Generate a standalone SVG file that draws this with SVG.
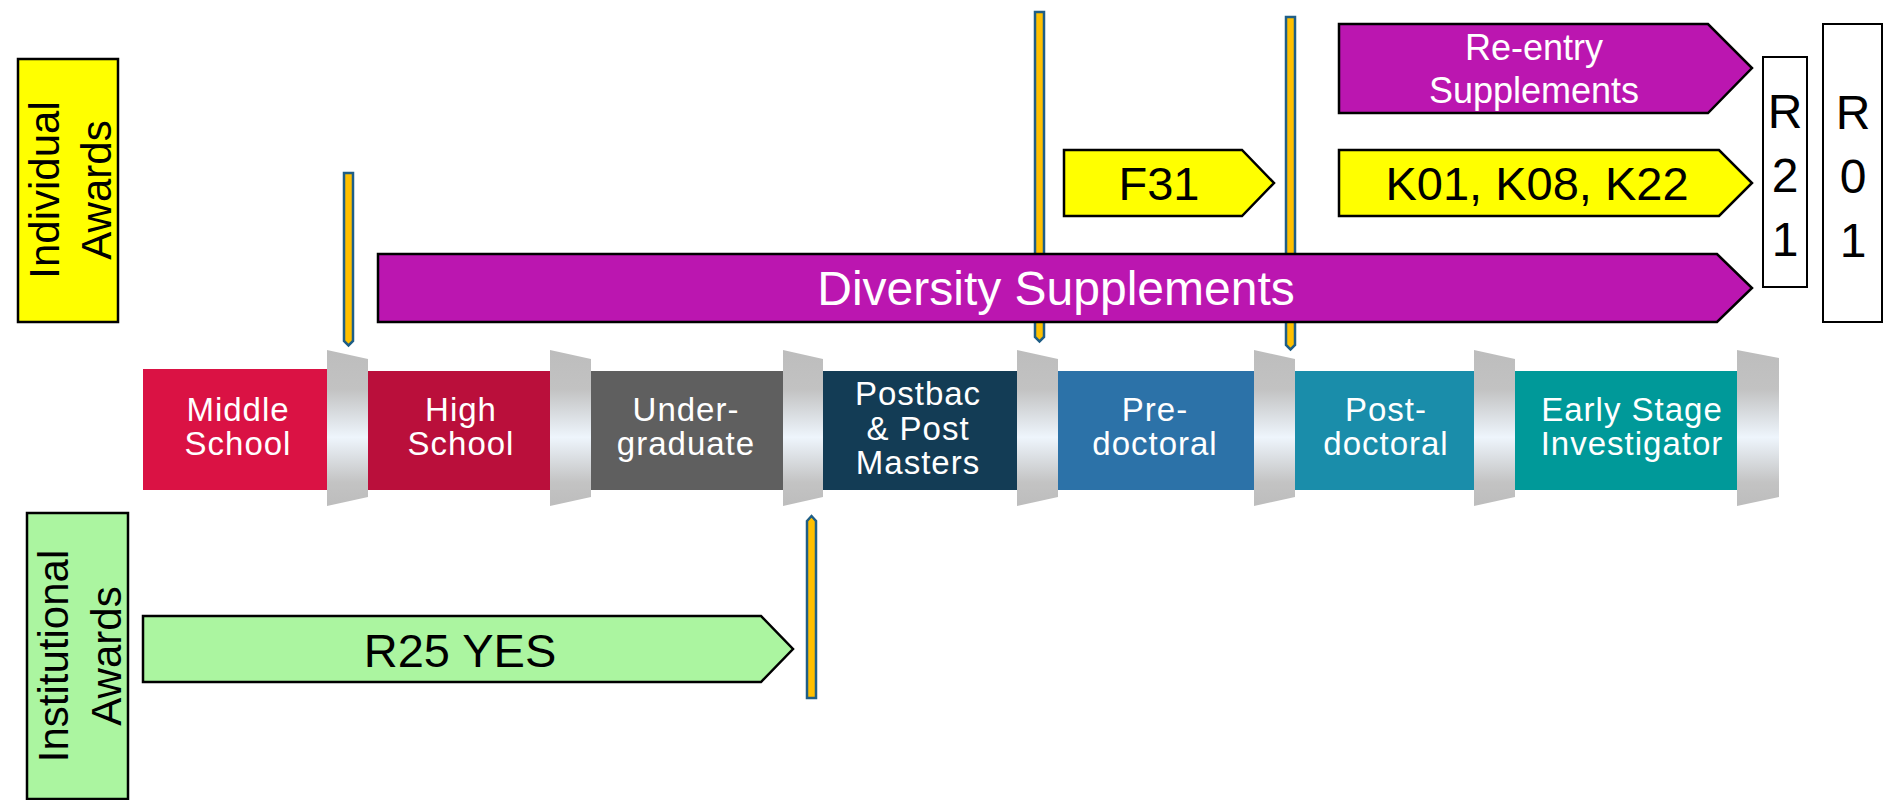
<svg xmlns="http://www.w3.org/2000/svg" width="1892" height="800" viewBox="0 0 1892 800">
<style>
text{font-family:"Liberation Sans",Arial,sans-serif}
.lbl{font-size:42px;fill:#000}
.stage{fill:#fff;font-size:33px;letter-spacing:1px;text-anchor:middle}
.arrow{stroke:#000;stroke-width:2.5;stroke-linejoin:miter}
.yel{fill:#FFFF00}
.pur{fill:#BB16B0}
.grn{fill:#ABF5A0}
.big{font-size:47px;text-anchor:middle}
.bar{fill:#FFC000;stroke:#1F5E86;stroke-width:2.5}
.conn{fill:url(#metal)}
.rbox{fill:#fff;stroke:#000;stroke-width:2}
.rtxt{font-size:48px;text-anchor:middle;fill:#000}
</style>
<defs>
<linearGradient id="metal" x1="0" y1="0" x2="0" y2="1">
<stop offset="0" stop-color="#BDBDBD"/>
<stop offset="0.25" stop-color="#C2C2C2"/>
<stop offset="0.56" stop-color="#EEF5FC"/>
<stop offset="0.85" stop-color="#C3C3C3"/>
<stop offset="1" stop-color="#BDBDBD"/>
</linearGradient>
</defs>
<rect width="1892" height="800" fill="#fff"/>

<g id="markers">
<polygon class="bar" points="344,173 353,173 353,341 348.5,345.5 344,341"/>
<polygon class="bar" points="1035,12 1044,12 1044,337 1039.5,341.5 1035,337"/>
<polygon class="bar" points="1286,17 1295,17 1295,345 1290.5,349.5 1286,345"/>
<polygon class="bar" points="807,521 811.5,516 816,521 816,698 807,698"/>
</g>

<g id="individual-awards">
<rect x="18" y="59" width="100" height="263" class="yel" stroke="#000" stroke-width="2.5"/>
<text class="lbl" text-anchor="middle" transform="translate(59,190) rotate(-90)">Individual</text>
<text class="lbl" text-anchor="middle" transform="translate(111,190) rotate(-90)">Awards</text>
</g>

<g id="institutional-awards">
<rect x="27" y="513" width="101" height="286" class="grn" stroke="#000" stroke-width="2.5"/>
<text class="lbl" text-anchor="middle" transform="translate(68,656) rotate(-90)">Institutional</text>
<text class="lbl" text-anchor="middle" transform="translate(121,656) rotate(-90)">Awards</text>
</g>

<g id="stages">
<g id="middle-school"><rect x="143" y="369" width="185" height="121" fill="#DA1244"/>
<text class="stage" x="238" y="421">Middle</text><text class="stage" x="238" y="455">School</text></g>
<g id="high-school"><rect x="367" y="371" width="184" height="119" fill="#BA0F3B"/>
<text class="stage" x="461" y="421">High</text><text class="stage" x="461" y="455">School</text></g>
<g id="undergraduate"><rect x="589" y="371" width="195" height="119" fill="#5F5F5F"/>
<text class="stage" x="686" y="421">Under-</text><text class="stage" x="686" y="455">graduate</text></g>
<g id="postbac"><rect x="822" y="371" width="196" height="119" fill="#133C55"/>
<text class="stage" x="918" y="405">Postbac</text><text class="stage" x="918" y="440">&amp; Post</text><text class="stage" x="918" y="474">Masters</text></g>
<g id="predoctoral"><rect x="1057" y="371" width="198" height="119" fill="#2C72A8"/>
<text class="stage" x="1155" y="421">Pre-</text><text class="stage" x="1155" y="455">doctoral</text></g>
<g id="postdoctoral"><rect x="1294" y="371" width="181" height="119" fill="#1A8DAA"/>
<text class="stage" x="1386" y="421">Post-</text><text class="stage" x="1386" y="455">doctoral</text></g>
<g id="early-stage"><rect x="1514" y="371" width="224" height="119" fill="#009999"/>
<text class="stage" x="1632" y="421">Early Stage</text><text class="stage" x="1632" y="455">Investigator</text></g>
</g>

<g id="connectors">
<polygon class="conn" points="327,350 368,359 368,497 327,506"/>
<polygon class="conn" points="550,350 591,359 591,497 550,506"/>
<polygon class="conn" points="783,350 823,359 823,497 783,506"/>
<polygon class="conn" points="1017,350 1058,359 1058,497 1017,506"/>
<polygon class="conn" points="1254,350 1295,359 1295,497 1254,506"/>
<polygon class="conn" points="1474,350 1515,359 1515,497 1474,506"/>
<polygon class="conn" points="1737,350 1779,358 1779,497 1737,506"/>
</g>

<g id="diversity-supplements">
<polygon class="arrow pur" points="378,254 1717,254 1752,288 1717,322 378,322"/>
<text class="big" x="1056" y="305" fill="#fff" style="font-size:48px">Diversity Supplements</text>
</g>

<g id="f31">
<polygon class="arrow yel" points="1064,150 1242,150 1274,183 1242,216 1064,216"/>
<text class="big" x="1159" y="200">F31</text>
</g>

<g id="reentry-supplements">
<polygon class="arrow pur" points="1339,24 1708,24 1752,68 1708,113 1339,113"/>
<text x="1534" y="60" text-anchor="middle" fill="#fff" font-size="36">Re-entry</text>
<text x="1534" y="103" text-anchor="middle" fill="#fff" font-size="36">Supplements</text>
</g>

<g id="k-awards">
<polygon class="arrow yel" points="1339,150 1719,150 1752,183 1719,216 1339,216"/>
<text class="big" x="1537" y="200">K01, K08, K22</text>
</g>

<g id="r25-yes">
<polygon class="arrow grn" points="143,616 761,616 793,649 761,682 143,682"/>
<text class="big" x="460" y="667">R25 YES</text>
</g>

<g id="r21">
<rect class="rbox" x="1763" y="57" width="44" height="230"/>
<text class="rtxt" x="1785" y="128">R</text>
<text class="rtxt" x="1785" y="192">2</text>
<text class="rtxt" x="1785" y="256">1</text>
</g>

<g id="r01">
<rect class="rbox" x="1823" y="24" width="59" height="298"/>
<text class="rtxt" x="1853" y="129">R</text>
<text class="rtxt" x="1853" y="193">0</text>
<text class="rtxt" x="1853" y="257">1</text>
</g>
</svg>
